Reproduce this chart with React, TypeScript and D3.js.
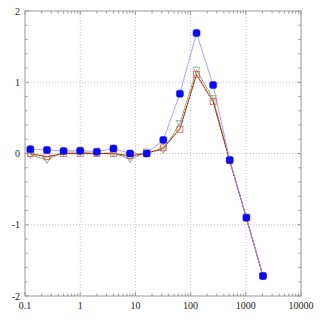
import React from "react";
import * as d3 from "d3";

const xs = [0.125, 0.25, 0.5, 1, 2, 4, 8, 16, 32, 64, 128, 256, 512, 1024, 2048];
const blueVals = [0.06, 0.05, 0.035, 0.04, 0.025, 0.07, 0.0, 0.0, 0.19, 0.84, 1.69, 0.96, -0.09, -0.9, -1.72];
const redVals = [0.0, -0.045, 0.0, 0.0, 0.0, 0.0, -0.03, 0.0, 0.08, 0.34, 1.11, 0.73, -0.1, -0.9, -1.72];
const greenVals = [-0.02, -0.09, 0.02, 0.02, 0.0, 0.01, -0.08, 0.02, 0.05, 0.42, 1.17, 0.77, -0.1, -0.9, -1.72];
const blackVals = [-0.01, -0.05, 0.0, -0.01, 0.0, -0.01, -0.04, 0.0, 0.07, 0.36, 1.1, 0.72, -0.11, -0.91, -1.73];
const xTickLabels = ["0.1", "1", "10", "100", "1000", "10000"];
const xTickVals = [0.1, 1, 10, 100, 1000, 10000];
const yTickVals = [2, 1, 0, -1, -2];

export default function App() {
  const W = 320, H = 320;
  const L = 25, R = 301, T = 11, B = 296;
  const x = d3.scaleLog().domain([0.1, 10000]).range([L, R]);
  const y = d3.scaleLinear().domain([-2, 2]).range([B, T]);
  const axisCol = "#999";
  const line = (vals: number[]) =>
    d3.line<number>().x((_, i) => x(xs[i])).y((v) => y(v))(vals) || "";

  const minorX: number[] = [];
  for (let e = -1; e < 4; e++) for (let k = 2; k <= 9; k++) minorX.push(k * Math.pow(10, e));
  const minorY = d3.range(-2, 2.001, 0.2).map((v) => +v.toFixed(1)).filter((v) => Math.abs(v - Math.round(v)) > 1e-6);

  const font = "'Liberation Serif', 'DejaVu Serif', serif";

  return (
    <svg width={W} height={H} style={{ position: "absolute", left: 0, top: 0 }}>
      <rect x={0} y={0} width={W} height={H} fill="#fff" />
      {[1, 10, 100, 1000].map((v) => (
        <line key={"gx" + v} x1={x(v)} x2={x(v)} y1={T} y2={B} stroke="#c4c4c4" strokeDasharray="1,2" strokeWidth={1} />
      ))}
      {[1, 0, -1].map((v) => (
        <line key={"gy" + v} x1={L} x2={R} y1={y(v)} y2={y(v)} stroke="#c4c4c4" strokeDasharray="1,2" strokeWidth={1} />
      ))}
      {xTickVals.map((v) => (
        <g key={"mx" + v}>
          <line x1={x(v)} x2={x(v)} y1={B} y2={B - 4} stroke={axisCol} />
          <line x1={x(v)} x2={x(v)} y1={T} y2={T + 4} stroke={axisCol} />
        </g>
      ))}
      {minorX.map((v) => (
        <g key={"nx" + v}>
          <line x1={x(v)} x2={x(v)} y1={B} y2={B - 2.5} stroke={axisCol} />
          <line x1={x(v)} x2={x(v)} y1={T} y2={T + 2.5} stroke={axisCol} />
        </g>
      ))}
      {yTickVals.map((v) => (
        <g key={"my" + v}>
          <line x1={L} x2={L + 4} y1={y(v)} y2={y(v)} stroke={axisCol} />
          <line x1={R} x2={R - 4} y1={y(v)} y2={y(v)} stroke={axisCol} />
        </g>
      ))}
      {minorY.map((v) => (
        <g key={"ny" + v}>
          <line x1={L} x2={L + 2.5} y1={y(v)} y2={y(v)} stroke={axisCol} />
          <line x1={R} x2={R - 2.5} y1={y(v)} y2={y(v)} stroke={axisCol} />
        </g>
      ))}
      <rect x={L} y={T} width={R - L} height={B - T} fill="none" stroke={axisCol} strokeWidth={1} />
      {xTickVals.map((v, i) => (
        <text key={"lx" + v} x={x(v)} y={309} textAnchor="middle" fontFamily={font} fontSize={10} fill="#222">
          {xTickLabels[i]}
        </text>
      ))}
      {yTickVals.map((v) => (
        <text key={"ly" + v} x={20} y={y(v) + 3.5} textAnchor="end" fontFamily={font} fontSize={10} fill="#222">
          {String(v)}
        </text>
      ))}
      <path d={line(greenVals)} fill="none" stroke="#7fb07f" strokeWidth={1} />
      <path d={line(redVals)} fill="none" stroke="#e83a10" strokeWidth={1} />
      <path d={line(blackVals)} fill="none" stroke="#222" strokeWidth={0.8} strokeDasharray="1,2" />
      <path d={line(blueVals)} fill="none" stroke="#9a9aff" strokeWidth={0.9} />
      {greenVals.map((v, i) => {
        const cx = x(xs[i]), cy = y(v);
        return (
          <path key={"gm" + i} d={`M${cx - 3.5},${cy - 3} L${cx + 3.5},${cy - 3} L${cx},${cy + 3.5} Z`} fill="none" stroke="#7fa07f" strokeWidth={0.8} />
        );
      })}
      {redVals.map((v, i) => (
        <rect key={"rm" + i} x={x(xs[i]) - 3} y={y(v) - 3} width={6} height={6} fill="none" stroke="#e0604a" strokeWidth={0.8} />
      ))}
      {blueVals.map((v, i) => (
        <rect key={"bm" + i} x={x(xs[i]) - 3.5} y={y(v) - 3.5} width={7} height={7} rx={2} fill="#0a0af5" stroke="#0a0af5" strokeWidth={0.5} />
      ))}
    </svg>
  );
}
